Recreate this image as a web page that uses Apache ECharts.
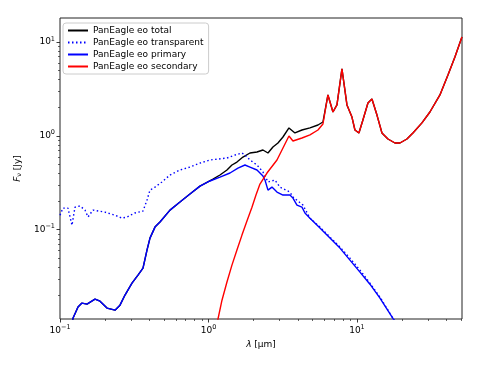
<!DOCTYPE html>
<html><head><meta charset="utf-8">
<script src="https://cdn.jsdelivr.net/npm/echarts@6/dist/echarts.min.js"></script>
<style>html,body{margin:0;padding:0;background:#fff}#c{width:481px;height:367px}</style>
</head><body><div id="c"></div>
<script>
const seriesNames = ['PanEagle eo total', 'PanEagle eo transparent', 'PanEagle eo primary', 'PanEagle eo secondary'];
const xTickValues = [0.1, 1, 10];
const yTickValues = [0.1, 1, 10];
const xRange = [0.1, 51];
const yRange = [0.0111, 18];

const transLambda = [0.1, 0.1047, 0.1132, 0.1204, 0.1262, 0.1364, 0.1474, 0.1544, 0.1668, 0.2009, 0.2347, 0.2615, 0.2827, 0.3199, 0.3622, 0.3854, 0.4037, 0.4362, 0.4862, 0.5505, 0.6427, 0.7504, 0.8766, 1.0235, 1.332, 1.508, 1.681, 1.761, 1.903, 2.122, 2.328, 2.516, 2.804, 3.030, 3.539, 3.707, 4.329, 4.826, 5.636, 7.683, 8.973, 10.48, 12.23, 14.29, 17.47, 18.89];
const transFlux = [0.142, 0.169, 0.169, 0.111, 0.173, 0.178, 0.161, 0.136, 0.161, 0.153, 0.142, 0.132, 0.136, 0.150, 0.157, 0.206, 0.263, 0.283, 0.321, 0.381, 0.431, 0.463, 0.511, 0.551, 0.578, 0.622, 0.654, 0.622, 0.551, 0.487, 0.410, 0.321, 0.337, 0.283, 0.251, 0.222, 0.182, 0.132, 0.106, 0.0649, 0.0495, 0.0369, 0.0268, 0.0190, 0.0113, 0.00954];

const primLambda = [0.1204, 0.1223, 0.1322, 0.1406, 0.1520, 0.1721, 0.1860, 0.2073, 0.2347, 0.2535, 0.2740, 0.3054, 0.3352, 0.3622, 0.3854, 0.4037, 0.4362, 0.4714, 0.5505, 0.6427, 0.7504, 0.8766, 1.0235, 1.195, 1.396, 1.580, 1.761, 1.903, 2.122, 2.328, 2.402, 2.516, 2.677, 2.893, 3.175, 3.539, 3.707, 3.945, 4.262, 4.465, 4.826, 5.636, 7.683, 8.973, 10.48, 12.23, 14.29, 17.47, 18.60];
const primFlux = [0.00954, 0.0113, 0.0149, 0.0164, 0.0160, 0.0181, 0.0172, 0.0145, 0.0138, 0.0156, 0.0200, 0.0268, 0.0326, 0.0387, 0.0603, 0.0809, 0.106, 0.120, 0.161, 0.196, 0.239, 0.290, 0.329, 0.362, 0.400, 0.452, 0.487, 0.463, 0.431, 0.371, 0.337, 0.263, 0.283, 0.251, 0.233, 0.233, 0.216, 0.182, 0.173, 0.150, 0.132, 0.1035, 0.0633, 0.0471, 0.0351, 0.0261, 0.0185, 0.0113, 0.00978];

const secLambda = [1.141, 1.159, 1.233, 1.332, 1.439, 1.555, 1.681, 1.816, 1.963, 2.089, 2.222, 2.477, 2.893, 3.175, 3.484, 3.707, 4.262, 4.826, 5.463, 5.902, 6.377, 6.893, 7.334, 7.925, 8.565, 9.254, 9.694, 10.31, 10.97, 11.86, 12.62, 13.64, 14.74, 16.18, 18.03, 19.48, 21.71, 23.83, 27.40, 31.01, 36.22, 41.02, 45.70, 50.93];
const secFlux = [0.00978, 0.0111, 0.0176, 0.0275, 0.0417, 0.0603, 0.0871, 0.123, 0.173, 0.233, 0.305, 0.400, 0.551, 0.739, 0.993, 0.878, 0.945, 1.02, 1.15, 1.333, 2.72, 1.79, 2.13, 5.15, 2.13, 1.58, 1.15, 1.07, 1.47, 2.23, 2.46, 1.66, 1.07, 0.922, 0.836, 0.836, 0.922, 1.07, 1.37, 1.79, 2.72, 4.44, 6.92, 11.31];

const totalLambda = [0.1204, 0.1223, 0.1322, 0.1406, 0.1520, 0.1721, 0.1860, 0.2073, 0.2347, 0.2535, 0.2740, 0.3054, 0.3352, 0.3622, 0.3854, 0.4037, 0.4362, 0.4714, 0.5505, 0.6427, 0.7504, 0.8766, 1.072, 1.195, 1.332, 1.439, 1.555, 1.707, 1.903, 2.122, 2.328, 2.516, 2.718, 2.938, 3.175, 3.484, 3.823, 4.262, 4.826, 5.463, 5.902, 6.377, 6.893, 7.334, 7.925, 8.565, 9.254, 9.694, 10.31, 10.97, 11.86, 12.62, 13.64, 14.74, 16.18, 18.03, 19.48, 21.71, 23.83, 27.40, 31.01, 36.22, 41.02, 45.70, 50.93];
const totalFlux = [0.00954, 0.0113, 0.0149, 0.0164, 0.0160, 0.0181, 0.0172, 0.0145, 0.0138, 0.0156, 0.0200, 0.0268, 0.0326, 0.0387, 0.0603, 0.0809, 0.106, 0.120, 0.161, 0.196, 0.239, 0.290, 0.345, 0.381, 0.431, 0.487, 0.524, 0.592, 0.654, 0.670, 0.704, 0.654, 0.758, 0.836, 0.969, 1.21, 1.07, 1.15, 1.21, 1.30, 1.40, 2.72, 1.79, 2.13, 5.15, 2.13, 1.58, 1.15, 1.07, 1.47, 2.23, 2.46, 1.66, 1.07, 0.922, 0.836, 0.836, 0.922, 1.07, 1.37, 1.79, 2.72, 4.44, 6.92, 11.31];

const zip = (a, b) => a.map((v, i) => [v, b[i]]);
const FONT = 'DejaVu Sans';

function isTick(v, list) { return list.some(t => Math.abs(Math.log10(v) - Math.log10(t)) < 1e-6); }
function powLabel(v) {
  const e = Math.round(Math.log10(v));
  return '{b|10}{s|' + (e < 0 ? '\u2212' + (-e) : String(e)) + '}';
}
const labelRich = {
  b: { fontSize: 9, fontFamily: FONT, color: '#000' },
  s: { fontSize: 6.5, fontFamily: FONT, color: '#000', padding: [0, 0, 6, 0] }
};

const chart = echarts.init(document.getElementById('c'), null, { renderer: 'canvas' });
function lineSeries(name, lam, flux, color, type) {
  return {
    name, type: 'line', data: zip(lam, flux), showSymbol: false, symbol: 'none',
    lineStyle: { color, width: 1.4, type: type || 'solid' }, itemStyle: { color },
    clip: true, animation: false, z: 2
  };
}
chart.setOption({
  animation: false,
  grid: { left: 60, right: 19, top: 18, bottom: 48, show: true, borderColor: '#222', borderWidth: 1, backgroundColor: 'transparent' },
  legend: {
    orient: 'vertical', left: 63, top: 23, padding: [3, 5, 3, 4], itemGap: 3,
    itemWidth: 20, itemHeight: 10, backgroundColor: '#fff', borderColor: '#ccc', borderWidth: 1, borderRadius: 3,
    itemStyle: { opacity: 0 },
    textStyle: { fontFamily: FONT, fontSize: 9, color: '#000' },
    data: seriesNames.map(n => ({ name: n }))
  },
  xAxis: {
    type: 'log', logBase: 10, min: xRange[0], max: xRange[1],
    name: '{i|λ} [μm]', nameLocation: 'middle', nameGap: 20,
    nameTextStyle: { fontFamily: FONT, fontSize: 9, color: '#000', rich: { i: { fontStyle: 'italic', fontFamily: FONT, fontSize: 9, color: '#000' } } },
    axisLine: { show: false }, axisTick: { show: false }, splitLine: { show: false },
    axisLabel: { margin: 5, showMinLabel: true, showMaxLabel: true, formatter: v => isTick(v, xTickValues) ? powLabel(v) : '', rich: labelRich }
  },
  yAxis: {
    type: 'log', logBase: 10, min: yRange[0], max: yRange[1],
    name: '{i|F}{sub|ν} [Jy]', nameLocation: 'middle', nameGap: 33, nameRotate: 90,
    nameTextStyle: { fontFamily: FONT, fontSize: 9, color: '#000', rich: {
      i: { fontStyle: 'italic', fontFamily: FONT, fontSize: 9, color: '#000' },
      sub: { fontFamily: FONT, fontSize: 6.5, color: '#000', padding: [4, 0, 0, 0] } } },
    axisLine: { show: false }, axisTick: { show: false }, splitLine: { show: false },
    axisLabel: { margin: 5, formatter: v => isTick(v, yTickValues) ? powLabel(v) : '', rich: labelRich }
  },
  series: [
    lineSeries(seriesNames[0], totalLambda, totalFlux, '#000000'),
    lineSeries(seriesNames[1], transLambda, transFlux, '#0000ff', [1.5, 2.5]),
    lineSeries(seriesNames[2], primLambda, primFlux, '#0000ff'),
    lineSeries(seriesNames[3], secLambda, secFlux, '#ff0000')
  ]
});

// axis ticks (major at decades, minor at 2..9 x decade), placed through the axis scales
const ticks = [];
const x0 = chart.convertToPixel({ xAxisIndex: 0 }, xRange[0]);
const yBottom = chart.convertToPixel({ yAxisIndex: 0 }, yRange[0]);
for (let d = -3; d <= 2; d++) {
  for (let m = 1; m <= 9; m++) {
    const v = m * Math.pow(10, d);
    const len = m === 1 ? 3.5 : 2;
    const w = m === 1 ? 0.9 : 0.7;
    if (v >= xRange[0] * 0.9999 && v <= xRange[1]) {
      const px = Math.round(chart.convertToPixel({ xAxisIndex: 0 }, v)) + 0.5;
      ticks.push({ type: 'line', silent: true, shape: { x1: px, y1: yBottom, x2: px, y2: yBottom + len }, style: { stroke: '#222', lineWidth: w } });
    }
    if (v >= yRange[0] && v <= yRange[1]) {
      const py = Math.round(chart.convertToPixel({ yAxisIndex: 0 }, v)) + 0.5;
      ticks.push({ type: 'line', silent: true, shape: { x1: x0 - len, y1: py, x2: x0, y2: py }, style: { stroke: '#222', lineWidth: w } });
    }
  }
}
chart.setOption({ graphic: ticks });
</script></body></html>
